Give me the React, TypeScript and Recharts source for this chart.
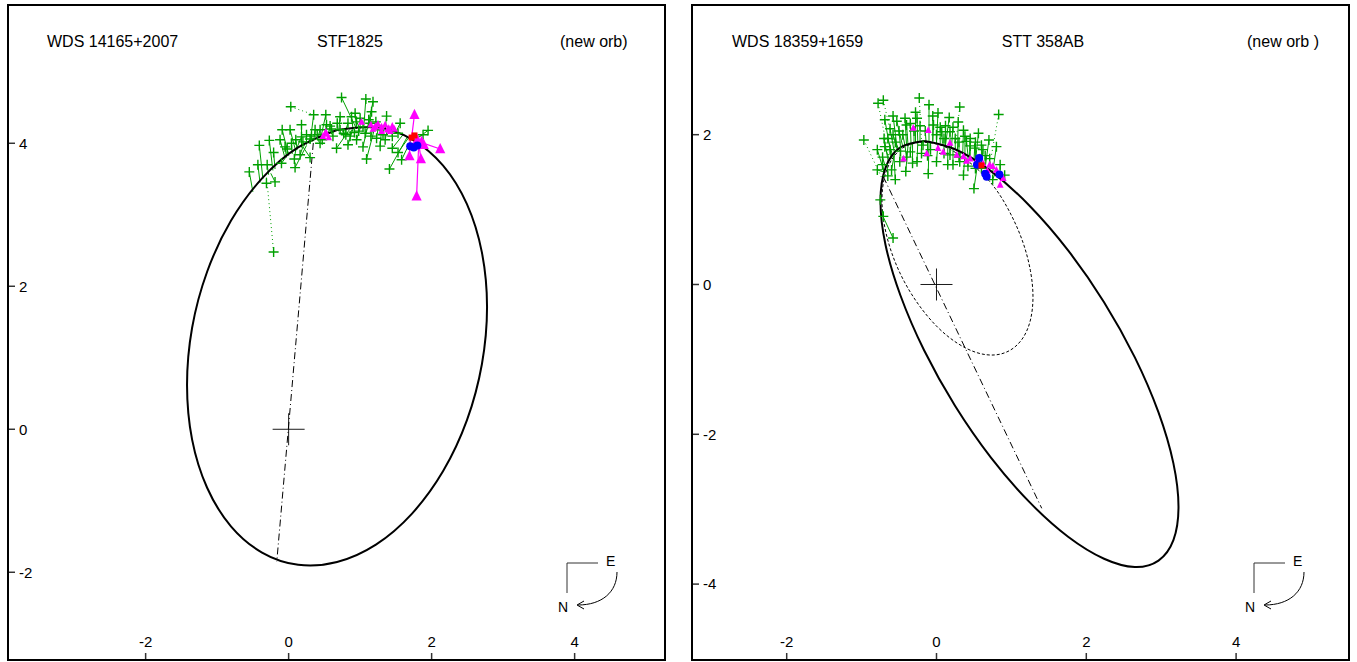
import React from "react";
import { ComposedChart, Scatter, Line, XAxis, YAxis } from "recharts";

const FONT = "'Liberation Sans', Arial, Helvetica, sans-serif";
const GREEN = "#00a000";
const MAGENTA = "#ff00ff";

// tick values
const xTicks = [-2, 0, 2, 4];
const leftYTicks = [-2, 0, 2, 4];
const rightYTicks = [-4, -2, 0, 2];

// ---- WDS 14165+2007 / STF1825 ----
// starts at the top, under the cluster, so the join of the curve is hidden
const leftOrbit = [
  [0.677, 4.186], [1.221, 4.225], [1.726, 4.055], [2.161, 3.687], [2.494, 3.148],
  [2.703, 2.474], [2.775, 1.71], [2.703, 0.91], [2.494, 0.127], [2.161, -0.585],
  [1.726, -1.179], [1.221, -1.613], [0.677, -1.856], [0.133, -1.895], [-0.372, -1.724],
  [-0.807, -1.357], [-1.14, -0.818], [-1.35, -0.144], [-1.421, 0.62], [-1.35, 1.42],
  [-1.14, 2.203], [-0.807, 2.915], [-0.372, 3.509], [0.133, 3.943], [0.677, 4.186],
];
const leftApsides = [[0.345, 4.004], [-0.166, -1.852]];

// observed x, observed y, computed x, computed y
const leftGreen = [
  [-0.41, 3.97, -0.36, 3.5], [-0.27, 4.04, -0.22, 3.62], [-0.21, 3.87, -0.19, 3.64],
  [-0.31, 3.44, -0.31, 3.52], [-0.19, 3.46, -0.25, 3.58], [-0.1, 3.72, -0.05, 3.79],
  [0.02, 4.19, 0.1, 3.89], [0.35, 4.4, 0.3, 4.0], [0.52, 4.4, 0.45, 4.08],
  [0.18, 4.09, 0.1, 3.9], [0.04, 4.0, 0.05, 3.85], [0.16, 3.84, 0.2, 3.95],
  [0.09, 3.66, 0.25, 3.97], [0.3, 4.06, 0.28, 4.0], [0.44, 4.19, 0.4, 4.06],
  [0.58, 4.24, 0.55, 4.12], [0.72, 4.19, 0.7, 4.17], [0.83, 4.28, 0.8, 4.19],
  [0.93, 4.42, 0.95, 4.2], [0.95, 4.3, 1.0, 4.21], [1.04, 4.23, 1.05, 4.21],
  [1.07, 4.14, 1.1, 4.21], [0.77, 4.14, 0.75, 4.18], [0.67, 3.93, 0.85, 4.19],
  [0.83, 3.98, 0.9, 4.2], [0.95, 4.05, 1.0, 4.21], [1.04, 3.95, 1.1, 4.21],
  [1.09, 3.78, 1.2, 4.2], [1.28, 3.96, 1.3, 4.2], [1.37, 4.38, 1.35, 4.19],
  [1.23, 4.07, 1.25, 4.2], [1.56, 4.28, 1.5, 4.16], [1.53, 4.14, 1.52, 4.15],
  [1.45, 3.93, 1.6, 4.12], [1.53, 3.87, 1.68, 4.08], [1.41, 3.64, 1.66, 4.09],
  [1.58, 3.77, 1.72, 4.06], [1.95, 4.18, 1.76, 4.04], [1.88, 4.12, 1.74, 4.05],
  [0.3, 3.8, 0.2, 3.95], [0.44, 4.0, 0.4, 4.06], [0.37, 4.19, 0.35, 4.03],
  [0.72, 4.37, 0.7, 4.17], [0.88, 4.37, 0.9, 4.2], [0.53, 4.26, 0.5, 4.1],
  [1.28, 4.19, 1.28, 4.2], [1.14, 4.28, 1.15, 4.21], [1.08, 4.62, 1.05, 4.21],
  [1.18, 4.58, 1.1, 4.21], [1.16, 4.44, 1.12, 4.21], [0.18, 4.26, 0.18, 3.94],
  [-0.09, 4.19, 0.0, 3.83], [-0.12, 4.05, -0.05, 3.79], [-0.43, 3.7, -0.4, 3.45],
  [-0.55, 3.6, -0.5, 3.32], [0.74, 4.64, 0.95, 4.2], [0.4, 4.12, 0.42, 4.07],
  [0.62, 4.1, 0.6, 4.14], [0.86, 4.1, 0.88, 4.19], [0.98, 4.17, 0.98, 4.21],
  [1.15, 4.1, 1.18, 4.2], [1.35, 4.05, 1.38, 4.18], [0.25, 4.12, 0.25, 3.98],
  [0.1, 4.05, 0.12, 3.91], [-0.02, 3.92, 0.0, 3.83], [0.2, 4.02, 0.22, 3.96],
  [0.32, 4.1, 0.33, 4.02], [0.47, 4.05, 0.48, 4.1], [0.6, 4.2, 0.62, 4.15],
  [0.68, 4.28, 0.68, 4.18], [0.8, 4.12, 0.8, 4.2], [0.92, 4.15, 0.92, 4.21],
  [1.0, 4.35, 1.0, 4.22], [1.12, 4.33, 1.12, 4.22], [1.22, 4.3, 1.22, 4.22],
  [1.32, 4.12, 1.32, 4.21], [1.45, 4.1, 1.45, 4.18], [-0.3, 3.7, -0.28, 3.56],
  [-0.05, 3.95, -0.03, 3.8], [0.08, 3.78, 0.1, 3.91],
];
const leftGreenDotted = [
  [-0.21, 2.48, -0.3, 3.44],
  [0.03, 4.51, 0.35, 4.4],
];
const leftMagentaBig = [
  [1.76, 4.4, 1.72, 4.08], [2.12, 3.92, 1.8, 4.03], [1.79, 3.26, 1.82, 4.01],
  [1.69, 3.82, 1.7, 4.07], [1.85, 3.78, 1.82, 4.01], [1.86, 4.02, 1.84, 4.0],
  [1.8, 4.05, 1.8, 4.03], [1.89, 3.98, 1.86, 3.99],
];
const leftMagentaSmall = [
  [1.15, 4.26], [1.2, 4.22], [1.25, 4.27], [1.3, 4.23], [1.35, 4.26], [1.4, 4.21],
  [1.45, 4.24], [1.42, 4.17], [1.3, 4.17], [0.52, 4.16], [0.48, 4.1], [0.56, 4.08],
  [1.02, 4.3], [1.18, 4.2], [1.38, 4.19], [1.48, 4.2], [1.22, 4.24], [0.53, 4.13],
];
const leftBlue = [[1.7, 3.96], [1.75, 3.94], [1.8, 3.97]];
const leftRed = [[1.72, 4.08], [1.76, 4.11]];

// ---- WDS 18359+1659 / STT 358AB ----
const rightOrbit = [
  [-0.164, 1.916], [0.247, 1.806], [0.727, 1.513], [1.242, 1.051], [1.757, 0.455],
  [2.237, -0.236], [2.648, -0.973], [2.964, -1.708], [3.163, -2.388], [3.231, -2.969],
  [3.163, -3.413], [2.964, -3.686], [2.648, -3.772], [2.237, -3.662], [1.757, -3.368],
  [1.242, -2.906], [0.727, -2.311], [0.247, -1.619], [-0.164, -0.882], [-0.481, -0.147],
  [-0.681, 0.531], [-0.748, 1.115], [-0.681, 1.558], [-0.481, 1.831], [-0.164, 1.916],
];
const rightOldOrbit = [
  [-0.223, 1.901], [0.019, 1.872], [0.28, 1.746], [0.542, 1.545], [0.785, 1.282],
  [0.993, 0.937], [1.154, 0.563], [1.254, 0.183], [1.288, -0.167], [1.254, -0.474],
  [1.154, -0.713], [0.993, -0.872], [0.785, -0.94], [0.542, -0.911], [0.28, -0.785],
  [0.019, -0.574], [-0.223, -0.291], [-0.433, 0.044], [-0.593, 0.409], [-0.693, 0.778],
  [-0.728, 1.128], [-0.693, 1.435], [-0.593, 1.674], [-0.433, 1.833], [-0.223, 1.901],
];
const rightApsides = [[-0.71, 1.439], [1.405, -2.988]];

const rightGreen = [
  [-0.69, 2.2, -0.6, 1.7], [-0.53, 2.18, -0.45, 1.84], [-0.58, 2.0, -0.52, 1.79],
  [-0.1, 2.4, -0.1, 1.91], [0.02, 2.29, 0.0, 1.89], [0.17, 2.23, 0.12, 1.86],
  [0.29, 2.17, 0.28, 1.79], [0.7, 1.93, 0.65, 1.56], [0.56, 2.02, 0.52, 1.64],
  [0.51, 1.82, 0.5, 1.65], [0.85, 1.6, 0.85, 1.43], [0.5, 1.28, 0.55, 1.62],
  [0.36, 1.46, 0.38, 1.74], [-0.11, 1.48, -0.1, 1.91], [-0.41, 1.51, -0.38, 1.86],
  [-0.79, 1.53, -0.7, 1.5], [-0.69, 1.84, -0.62, 1.64], [-0.4, 2.13, -0.38, 1.86],
  [-0.26, 2.22, -0.25, 1.9], [-0.04, 2.13, -0.05, 1.91], [0.07, 2.04, 0.08, 1.88],
  [0.18, 2.04, 0.18, 1.84], [0.36, 2.06, 0.35, 1.75], [0.4, 1.91, 0.42, 1.73],
  [0.6, 1.86, 0.6, 1.6], [-0.18, 1.86, -0.18, 1.91], [-0.35, 1.77, -0.34, 1.88],
  [-0.49, 1.64, -0.48, 1.83], [-0.6, 1.53, -0.56, 1.75], [-0.26, 1.64, -0.25, 1.9],
  [0.0, 1.64, 0.02, 1.89], [0.18, 1.73, 0.18, 1.84], [0.31, 1.64, 0.32, 1.78],
  [0.6, 1.55, 0.62, 1.58], [0.71, 1.68, 0.7, 1.53], [0.8, 1.84, 0.75, 1.5],
  [0.91, 1.46, 0.9, 1.4], [-0.75, 1.13, -0.74, 1.2], [-0.71, 0.91, -0.73, 1.0],
  [-0.58, 0.62, -0.71, 0.9], [-0.79, 1.8, -0.7, 1.5], [-0.65, 1.95, -0.58, 1.7],
  [-0.45, 2.0, -0.42, 1.85], [-0.3, 2.05, -0.3, 1.89], [-0.15, 2.05, -0.14, 1.91],
  [0.0, 2.0, 0.0, 1.89], [0.1, 1.95, 0.1, 1.87], [0.25, 1.95, 0.25, 1.81],
  [0.45, 1.85, 0.45, 1.71], [-0.55, 1.9, -0.5, 1.8], [-0.72, 1.7, -0.68, 1.56],
  [-0.4, 1.7, -0.42, 1.85], [-0.2, 1.75, -0.2, 1.91], [0.1, 1.75, 0.1, 1.87],
  [0.3, 1.7, 0.3, 1.79], [0.65, 1.72, 0.65, 1.56], [0.75, 1.4, 0.78, 1.48],
  [-0.5, 2.05, -0.48, 1.83], [-0.35, 2.15, -0.34, 1.88], [0.05, 2.1, 0.05, 1.88],
  [-0.62, 2.08, -0.56, 1.75], [-0.22, 2.12, -0.22, 1.91], [0.22, 2.1, 0.2, 1.83],
  [0.45, 1.95, 0.44, 1.72], [0.52, 1.55, 0.52, 1.64], [0.15, 1.6, 0.15, 1.85],
  [-0.12, 1.72, -0.12, 1.91], [-0.65, 1.45, -0.66, 1.6], [-0.55, 1.4, -0.57, 1.76],
  [-0.7, 1.95, -0.64, 1.62], [-0.58, 2.25, -0.52, 1.78], [-0.42, 2.22, -0.4, 1.86],
  [-0.28, 2.3, -0.28, 1.9], [-0.05, 2.25, -0.05, 1.91], [0.12, 2.12, 0.12, 1.86],
  [0.38, 1.98, 0.38, 1.74], [0.52, 1.9, 0.52, 1.64], [-0.62, 1.8, -0.6, 1.68],
  [-0.48, 1.78, -0.48, 1.83], [-0.32, 1.62, -0.32, 1.89], [0.22, 1.6, 0.22, 1.83],
  [0.42, 1.58, 0.42, 1.73], [-0.08, 1.8, -0.08, 1.91], [0.62, 1.8, 0.6, 1.6],
  [-0.72, 1.6, -0.7, 1.5], [0.3, 1.9, 0.3, 1.79],
];
const rightGreenDotted = [
  [-0.78, 2.42, -0.62, 1.64], [-0.71, 2.46, -0.55, 1.75], [-0.97, 1.93, -0.72, 1.4],
  [-0.23, 2.49, -0.2, 1.91], [0.31, 2.37, 0.25, 1.81], [0.83, 2.27, 0.7, 1.53],
];
const rightMagenta = [
  [-0.31, 2.09], [-0.11, 2.06], [-0.44, 1.68], [-0.13, 1.75], [0.02, 1.82], [0.09, 1.77],
  [0.18, 1.89], [0.27, 1.73], [0.36, 1.71], [0.45, 1.68], [0.54, 1.66], [0.62, 1.62],
  [0.71, 1.6], [0.8, 1.53], [0.89, 1.42], [0.85, 1.33], [0.75, 1.58], [0.68, 1.52],
  [0.4, 1.65], [0.58, 1.7],
];
const rightBlue = [[0.54, 1.6], [0.65, 1.48], [0.67, 1.44], [0.84, 1.47], [0.57, 1.69]];
const rightRed = [[0.6, 1.59]];

const origin = [[0, 0]];

const pts = (rows: number[][]) => rows.map(([x, y]) => ({ x, y }));
// observed -> computed segments, broken by a null
const segs = (rows: number[][]) => {
  const out: { x: number; y: number | null }[] = [];
  rows.forEach(([ox, oy, cx, cy]) => {
    out.push({ x: ox, y: oy }, { x: cx, y: cy }, { x: cx, y: null });
  });
  return out;
};

const plus = (color: string, r: number, w: number) => (p: any) => (
  <path d={`M${p.cx - r},${p.cy}H${p.cx + r}M${p.cx},${p.cy - r}V${p.cy + r}`} stroke={color} strokeWidth={w} fill="none" />
);
const tri = (color: string, r: number) => (p: any) => (
  <path d={`M${p.cx},${p.cy - r}L${p.cx + r * 0.85},${p.cy + r * 0.7}L${p.cx - r * 0.85},${p.cy + r * 0.7}Z`} fill={color} />
);
const dot = (color: string, r: number) => (p: any) => <circle cx={p.cx} cy={p.cy} r={r} fill={color} />;
const square = (color: string, r: number) => (p: any) => (
  <rect x={p.cx - r} y={p.cy - r} width={2 * r} height={2 * r} fill={color} />
);

const tickStyle = { fill: "#000", fontSize: 15, fontFamily: FONT };
const tickLine = { stroke: "#333", strokeWidth: 1.5 };

interface PanelProps {
  left: number;
  xDomain: number[];
  yDomain: number[];
  yTicks: number[];
  orbit: number[][];
  oldOrbit?: number[][];
  apsides: number[][];
  green: number[][];
  greenDotted: number[][];
  magentaBig: number[][];
  magentaSmall: number[][];
  blue: number[][];
  red: number[][];
}

const Panel = (p: PanelProps) => (
  <div style={{ position: "absolute", left: p.left, top: 4, width: 659, height: 657, border: "2px solid #000", boxSizing: "border-box" }}>
    <ComposedChart width={655} height={653} margin={{ top: 0, right: 0, bottom: 0, left: 0 }}>
      <XAxis type="number" dataKey="x" domain={p.xDomain} allowDataOverflow ticks={xTicks} interval={0} mirror
        axisLine={false} tickSize={6} tickMargin={6} tickLine={tickLine} tick={tickStyle} />
      <XAxis xAxisId="top" orientation="top" type="number" dataKey="x" domain={p.xDomain} allowDataOverflow ticks={xTicks}
        interval={0} mirror axisLine={false} tickSize={6} tickLine={tickLine} tick={false} />
      <YAxis type="number" dataKey="y" domain={p.yDomain} allowDataOverflow ticks={p.yTicks} interval={0} mirror
        axisLine={false} tickSize={6} tickMargin={4} tickLine={tickLine} tick={tickStyle} />
      <YAxis yAxisId="right" orientation="right" type="number" dataKey="y" domain={p.yDomain} allowDataOverflow ticks={p.yTicks}
        interval={0} mirror axisLine={false} tickSize={6} tickLine={tickLine} tick={false} />

      <Line data={pts(p.apsides)} dataKey="y" stroke="#000" strokeWidth={1} strokeDasharray="7 3 1 3" dot={false} activeDot={false} isAnimationActive={false} />
      {p.oldOrbit && (
        <Line data={pts(p.oldOrbit)} dataKey="y" type="natural" stroke="#000" strokeWidth={1} strokeDasharray="3 2" dot={false} activeDot={false} isAnimationActive={false} />
      )}
      <Line data={segs(p.greenDotted)} dataKey="y" stroke={GREEN} strokeWidth={1} strokeDasharray="1 3" dot={false} activeDot={false} isAnimationActive={false} />
      <Line data={segs(p.green)} dataKey="y" stroke={GREEN} strokeWidth={1} dot={false} activeDot={false} isAnimationActive={false} />
      <Scatter data={pts(p.green.concat(p.greenDotted))} shape={plus(GREEN, 5, 1.4)} isAnimationActive={false} />
      <Line data={pts(p.orbit)} dataKey="y" type="natural" stroke="#000" strokeWidth={2} dot={false} activeDot={false} isAnimationActive={false} />
      <Line data={segs(p.magentaBig)} dataKey="y" stroke={MAGENTA} strokeWidth={1.2} dot={false} activeDot={false} isAnimationActive={false} />
      <Scatter data={pts(p.magentaSmall)} shape={tri(MAGENTA, 4)} isAnimationActive={false} />
      <Scatter data={pts(p.magentaBig)} shape={tri(MAGENTA, 6)} isAnimationActive={false} />
      <Scatter data={pts(p.blue)} shape={dot("#0000ff", 4)} isAnimationActive={false} />
      <Scatter data={pts(p.red)} shape={square("#ff0000", 3)} isAnimationActive={false} />
      <Scatter data={pts(origin)} shape={plus("#000", 16, 0.9)} isAnimationActive={false} />
    </ComposedChart>
  </div>
);

const Compass = ({ dx }: { dx: number }) => (
  <g transform={`translate(${dx},0)`} fontFamily={FONT} fontSize={14}>
    <path d="M598,563H567V593" stroke="#333" strokeWidth={1} fill="none" />
    <text x={606} y={566}>E</text>
    <text x={558} y={612}>N</text>
    <path d="M617,572C617,592 602,605 578,605" stroke="#000" strokeWidth={1} fill="none" />
    <path d="M584,601L577,605L584,609" stroke="#000" strokeWidth={1} fill="none" />
  </g>
);

export default function App() {
  return (
    <div style={{ position: "absolute", left: 0, top: 0, width: 1357, height: 662, background: "#fff", fontFamily: FONT }}>
      <Panel left={7} xDomain={[-3.911, 5.25]} yDomain={[-3.213, 5.92]} yTicks={leftYTicks}
        orbit={leftOrbit} apsides={leftApsides} green={leftGreen} greenDotted={leftGreenDotted}
        magentaBig={leftMagentaBig} magentaSmall={leftMagentaSmall} blue={leftBlue} red={leftRed} />
      <Panel left={691} xDomain={[-3.251, 5.494]} yDomain={[-5.0, 3.718]} yTicks={rightYTicks}
        orbit={rightOrbit} oldOrbit={rightOldOrbit} apsides={rightApsides} green={rightGreen} greenDotted={rightGreenDotted}
        magentaBig={[]} magentaSmall={rightMagenta} blue={rightBlue} red={rightRed} />
      <svg width={1357} height={662} style={{ position: "absolute", left: 0, top: 0, pointerEvents: "none" }}>
        <g fontFamily={FONT} fontSize={16} fill="#000">
          <text x={47} y={47}>WDS 14165+2007</text>
          <text x={350} y={47} textAnchor="middle">STF1825</text>
          <text x={560} y={47}>(new orb)</text>
          <text x={732} y={47}>WDS 18359+1659</text>
          <text x={1043} y={47} textAnchor="middle">STT 358AB</text>
          <text x={1247} y={47}>(new orb )</text>
        </g>
        <Compass dx={0} />
        <Compass dx={687} />
      </svg>
    </div>
  );
}
